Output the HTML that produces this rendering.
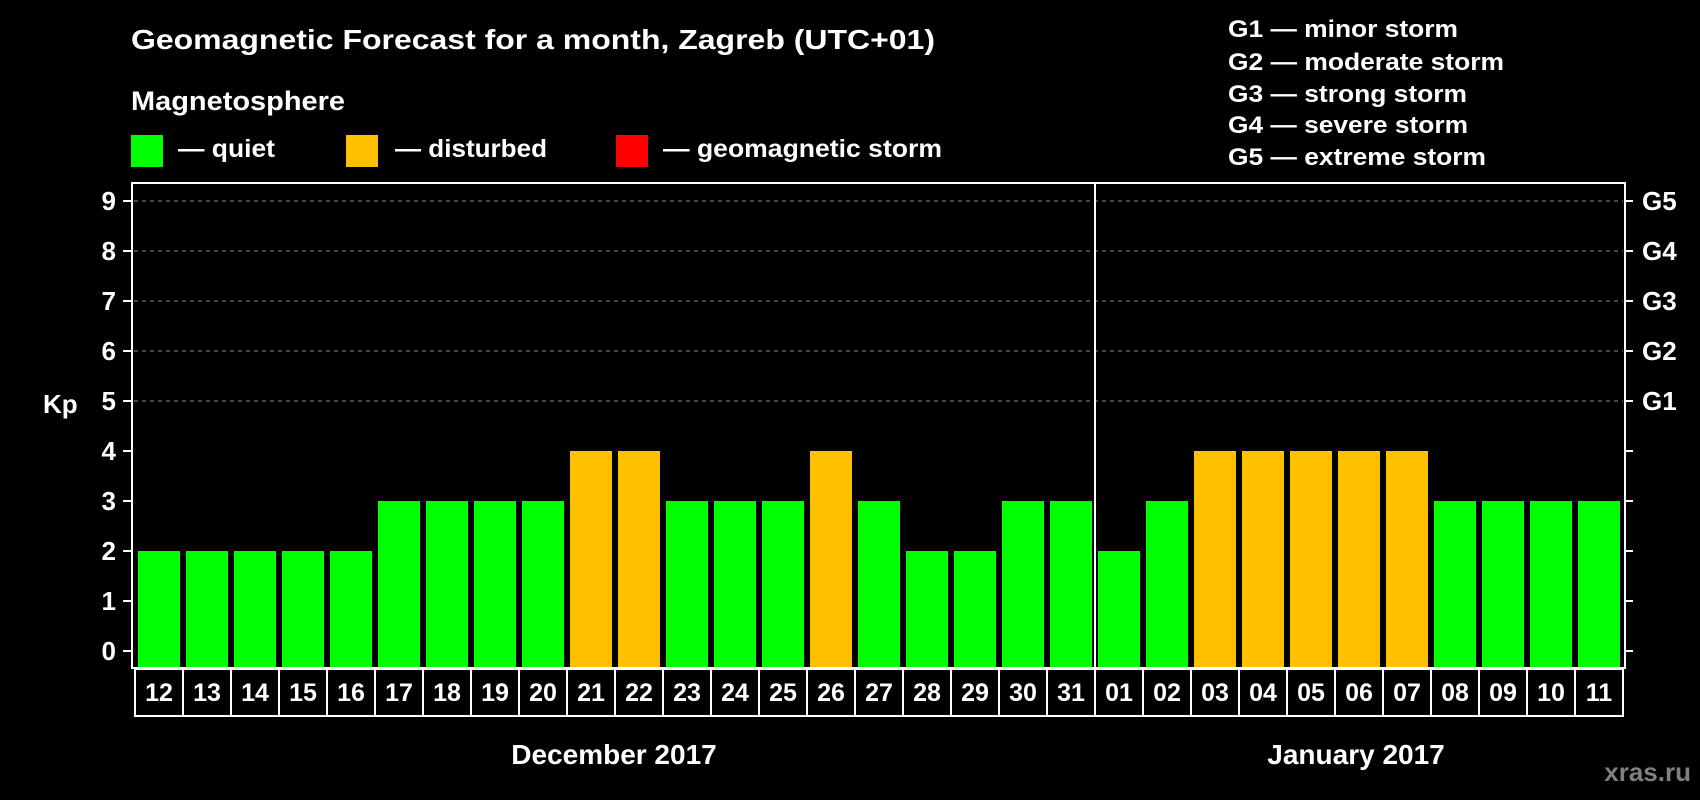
<!DOCTYPE html>
<html><head><meta charset="utf-8"><style>
html,body{margin:0;padding:0;background:#000;}
svg{display:block;font-family:"Liberation Sans",Arial,sans-serif;font-weight:bold;}
</style></head><body>
<svg id="chart" width="1700" height="800" viewBox="0 0 1700 800" xmlns="http://www.w3.org/2000/svg">
<rect x="0" y="0" width="1700" height="800" fill="#000"/>
<text x="131" y="49" font-size="28" fill="#fff" textLength="804" lengthAdjust="spacingAndGlyphs">Geomagnetic Forecast for a month, Zagreb (UTC+01)</text>
<text x="131" y="110" font-size="27" fill="#fff" textLength="214" lengthAdjust="spacingAndGlyphs">Magnetosphere</text>
<g>
<rect x="131" y="135" width="32" height="32" fill="#00ff00"/>
<text x="178" y="157" font-size="25" fill="#fff" textLength="97" lengthAdjust="spacingAndGlyphs">— quiet</text>
</g>
<g>
<rect x="346" y="135" width="32" height="32" fill="#ffc000"/>
<text x="395" y="157" font-size="25" fill="#fff" textLength="152" lengthAdjust="spacingAndGlyphs">— disturbed</text>
</g>
<g>
<rect x="616" y="135" width="32" height="32" fill="#ff0000"/>
<text x="663" y="157" font-size="25" fill="#fff" textLength="279" lengthAdjust="spacingAndGlyphs">— geomagnetic storm</text>
</g>
<g font-size="24" fill="#fff">
<text x="1228" y="37" textLength="230" lengthAdjust="spacingAndGlyphs">G1 — minor storm</text>
<text x="1228" y="70" textLength="276" lengthAdjust="spacingAndGlyphs">G2 — moderate storm</text>
<text x="1228" y="102" textLength="239" lengthAdjust="spacingAndGlyphs">G3 — strong storm</text>
<text x="1228" y="133" textLength="240" lengthAdjust="spacingAndGlyphs">G4 — severe storm</text>
<text x="1228" y="165" textLength="258" lengthAdjust="spacingAndGlyphs">G5 — extreme storm</text>
</g>
<text x="43" y="413" font-size="26" fill="#fff">Kp</text>
<g id="grid"></g>
<g id="bars"></g>
<rect x="132" y="183" width="1493" height="485" fill="none" stroke="#fff" stroke-width="2"/>
<line x1="1095" y1="183" x2="1095" y2="668" stroke="#fff" stroke-width="2"/>
<g id="axes"></g>
<g id="days"></g>
<text x="614" y="764" font-size="28" fill="#fff" text-anchor="middle">December 2017</text>
<text x="1356" y="764" font-size="28" fill="#fff" text-anchor="middle">January 2017</text>
<text x="1691" y="781" font-size="26" fill="#808080" text-anchor="end">xras.ru</text>
</svg>
<script>
const days = ["12","13","14","15","16","17","18","19","20","21","22","23","24","25","26","27","28","29","30","31","01","02","03","04","05","06","07","08","09","10","11"];
const kpValues = [2,2,2,2,2,3,3,3,3,4,4,3,3,3,4,3,2,2,3,3,2,3,4,4,4,4,4,3,3,3,3];
const yTicks = [0,1,2,3,4,5,6,7,8,9];
const gLabels = ["G1","G2","G3","G4","G5"];
const gLevels = [5,6,7,8,9];

const NS = "http://www.w3.org/2000/svg";
const y0 = 651, unit = 50, x0 = 138, pitch = 48, bw = 42;
const yScale = v => y0 - v * unit;
const xScale = i => x0 + i * pitch;
function mk(tag, attrs, parent) {
  const e = document.createElementNS(NS, tag);
  for (const k in attrs) e.setAttribute(k, attrs[k]);
  parent.appendChild(e);
  return e;
}
const grid = document.getElementById("grid");
const bars = document.getElementById("bars");
const axes = document.getElementById("axes");
const dayG = document.getElementById("days");

gLevels.forEach(v => {
  const l = mk("line", {x1: 134, x2: 1623, y1: yScale(v), y2: yScale(v), stroke: "#888", "stroke-width": 1, "stroke-dasharray": "4,4"}, grid);
  
  
});
yTicks.forEach(v => {
  const t = mk("line", {x1: 123, x2: 132, y1: yScale(v), y2: yScale(v), stroke: "#fff", "stroke-width": 2}, axes);
  
  
  const r = mk("line", {x1: 1625, x2: 1633, y1: yScale(v), y2: yScale(v), stroke: "#fff", "stroke-width": 2}, axes);
  
  
  const lab = mk("text", {x: 116, y: yScale(v) + 9, "font-size": 26, fill: "#fff", "text-anchor": "end"}, axes);
  lab.textContent = v;
  
  
});
gLabels.forEach((g, i) => {
  const lab = mk("text", {x: 1642, y: yScale(gLevels[i]) + 9, "font-size": 26, fill: "#fff"}, axes);
  lab.textContent = g;
  
  
});
kpValues.forEach((v, i) => {
  const b = mk("rect", {x: xScale(i), y: yScale(v), width: bw, height: 668 - yScale(v) - 1, fill: v >= 5 ? "#ff0000" : (v >= 4 ? "#ffc000" : "#00ff00")}, bars);
  
  
});
days.forEach((d, i) => {
  const bx = xScale(i) - 3;
  const box = mk("rect", {x: bx, y: 669, width: pitch, height: 47, fill: "none", stroke: "#fff", "stroke-width": 2}, dayG);
  
  
  const t = mk("text", {x: bx + pitch / 2, y: 701, "font-size": 25, fill: "#fff", "text-anchor": "middle"}, dayG);
  t.textContent = d;
  
  
});
</script>
</body></html>
